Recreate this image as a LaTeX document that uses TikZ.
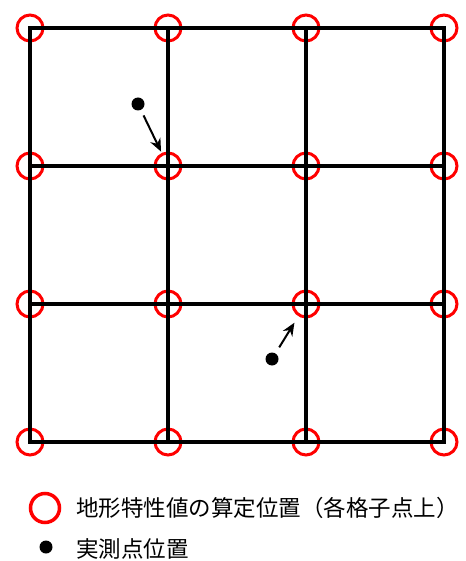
\documentclass[tikz,border=0pt]{standalone}
\usepackage{fontspec}
\newfontfamily\jpfont{Noto Sans CJK JP}
\usetikzlibrary{arrows.meta}
\usetikzlibrary{positioning}

\begin{document}
\begin{tikzpicture}[
  x=1pt, y=-1pt,
  gridline/.style={line width=3.5pt, line cap=rect, line join=miter},
  calcpt/.style={draw=red, line width=3pt, circle, minimum size=26pt,
    inner sep=0pt},
  measpt/.style={fill=black, circle, minimum size=13pt, inner sep=0pt},
  movearrow/.style={line width=2pt, -{Stealth[length=13pt,width=11pt]}},
  legendtext/.style={font=\jpfont\fontsize{22.5}{27}\selectfont,
    inner sep=0pt, anchor=west}
]
\useasboundingbox (0,0) rectangle (465,561);
% grid points
\foreach \i in {0,...,3}
  \foreach \j in {0,...,3}
    \node[calcpt] (g\i\j) at (30+138*\i, 28+138*\j) {};
% grid lines
\draw[gridline] (g00.center) rectangle (g33.center);
\foreach \k in {1,2} {
  \draw[gridline] (g\k0.center) -- (g\k3.center);
  \draw[gridline] (g0\k.center) -- (g3\k.center);
}
% measured points
\node[measpt] (mp1) at (138,104) {};
\node[measpt] (mp2) at (272,359) {};
\draw[movearrow, shorten <=6pt, shorten >=1.5pt] (mp1) -- (g11);
\draw[movearrow, shorten <=7pt, shorten >=7.5pt] (mp2) -- (g22);
% legend
\node[calcpt, minimum size=29pt, line width=3.5pt] (lgcalc) at (45,508) {};
\node[legendtext, right=15pt of lgcalc] (lgcalctext)
  {地形特性値の算定位置（各格子点上）};
\node[measpt] (lgmeas) at (46,547) {};
\node[legendtext] (lgmeastext) at (lgcalctext.west |- 0,549) {実測点位置};
\end{tikzpicture}
\end{document}
